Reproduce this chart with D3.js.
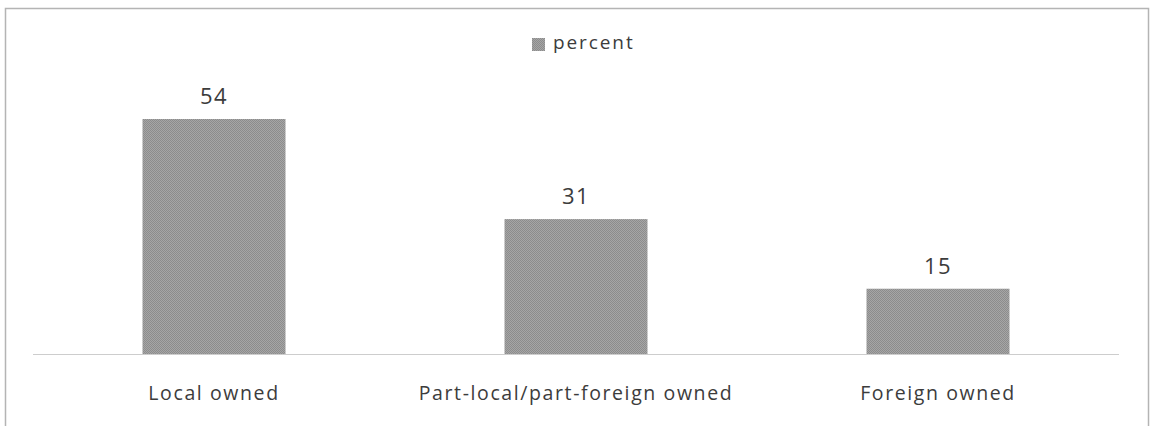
<!DOCTYPE html>
<html>
<head>
<meta charset="utf-8">
<script src="https://cdn.jsdelivr.net/npm/d3@7/dist/d3.min.js"></script>
<style>
  html, body { margin: 0; padding: 0; background: #ffffff; }
  svg { display: block; }
  text { font-family: "Open Sans", "DejaVu Sans", sans-serif; fill: #3c3c3c; }
</style>
</head>
<body>
<svg id="chart" width="1157" height="426"></svg>
<script>
// Ownership share of firms, in percent
const categories = ["Local owned", "Part-local/part-foreign owned", "Foreign owned"];
const percentValues = [54, 31, 15];
const seriesName = "percent";

const svg = d3.select("#chart");
const W = 1157, H = 426;
const margin = { left: 33, right: 38, top: 119, bottom: 72 };
const plotW = W - margin.left - margin.right;   // category axis span
const baseY = 354;

// Dithered grey fill for the bars
const defs = svg.append("defs");
const pat = defs.append("pattern")
  .attr("id", "dither").attr("width", 2).attr("height", 2)
  .attr("patternUnits", "userSpaceOnUse");
pat.append("rect").attr("width", 2).attr("height", 2).attr("fill", "#a6a6a6");
pat.append("rect").attr("width", 1).attr("height", 1).attr("fill", "#8c8c8c");
pat.append("rect").attr("x", 1).attr("y", 1).attr("width", 1).attr("height", 1).attr("fill", "#8c8c8c");

// Outer frame
svg.append("rect")
  .attr("x", 5.5).attr("y", 8.5)
  .attr("width", 1143).attr("height", 430)
  .attr("fill", "none")
  .attr("stroke", "#b4b4b4").attr("stroke-width", 1.5);

const x = d3.scaleBand()
  .domain(categories)
  .range([margin.left, margin.left + plotW])
  .paddingInner(0.605).paddingOuter(0.3025);

const y = d3.scaleLinear()
  .domain([0, 54])
  .range([baseY, margin.top]);

// Bars
svg.append("g").selectAll("rect")
  .data(categories.map((c, i) => ({ c, v: percentValues[i] })))
  .join("rect")
  .attr("x", d => x(d.c))
  .attr("y", d => y(d.v))
  .attr("width", x.bandwidth())
  .attr("height", d => y(0) - y(d.v))
  .attr("fill", "url(#dither)");

// Category axis line (dotted)
const xAxis = d3.axisBottom(x).tickSize(0).tickPadding(0);
const gx = svg.append("g").attr("transform", `translate(0,${baseY})`).call(xAxis);
gx.select(".domain")
  .attr("stroke", "#9a9a9a")
  .attr("stroke-dasharray", "1,1")
  .attr("stroke-width", 1);
gx.selectAll(".tick text")
  .attr("dy", null)
  .attr("y", 46)
  .attr("font-size", 19.5)
  .attr("letter-spacing", 1.6)
  .attr("fill", "#3c3c3c")
  .style("font-family", '"Open Sans", "DejaVu Sans", sans-serif');

// Value labels
svg.append("g").selectAll("text")
  .data(categories.map((c, i) => ({ c, v: percentValues[i] })))
  .join("text")
  .attr("x", d => x(d.c) + x.bandwidth() / 2)
  .attr("y", d => y(d.v) - 15)
  .attr("text-anchor", "middle")
  .attr("font-size", 22)
  .attr("letter-spacing", 1.5)
  .text(d => d.v);

// Legend
const lg = svg.append("g").attr("transform", "translate(532,38)");
lg.append("rect").attr("width", 13).attr("height", 13).attr("fill", "url(#dither)");
lg.append("text")
  .attr("x", 21).attr("y", 11)
  .attr("font-size", 19)
  .attr("letter-spacing", 1.9)
  .text(seriesName);
</script>
</body>
</html>
